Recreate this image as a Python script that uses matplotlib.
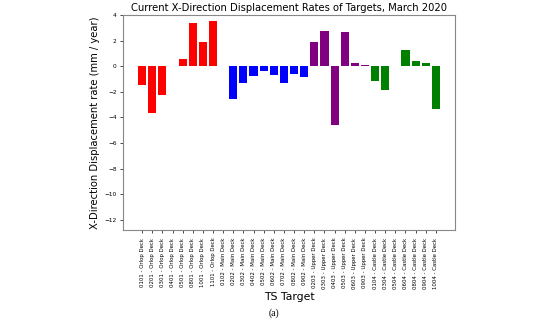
import matplotlib
matplotlib.use("Agg")
import matplotlib.pyplot as plt

targets = ["0101 - Orlop Deck", "0201 - Orlop Deck", "0301 - Orlop Deck", "0401 - Orlop Deck",
           "0501 - Orlop Deck", "0801 - Orlop Deck", "1001 - Orlop Deck", "1101 - Orlop Deck",
           "0102 - Main Deck", "0202 - Main Deck", "0302 - Main Deck", "0402 - Main Deck",
           "0502 - Main Deck", "0602 - Main Deck", "0702 - Main Deck", "0802 - Main Deck",
           "0902 - Main Deck",
           "0203 - Upper Deck", "0303 - Upper Deck", "0403 - Upper Deck", "0503 - Upper Deck",
           "0603 - Upper Deck", "0903 - Upper Deck",
           "0104 - Castle Deck", "0304 - Castle Deck", "0504 - Castle Deck", "0604 - Castle Deck",
           "0804 - Castle Deck", "0904 - Castle Deck", "1004 - Castle Deck"]

rates = [-1.45, -3.64, -2.24, 0.0, 0.54, 3.35, 1.93, 3.56,
         0.0, -2.56, -1.30, -0.75, -0.41, -0.67, -1.32, -0.62, -0.83,
         1.87, 2.72, -4.63, 2.69, 0.25, 0.08,
         -1.17, -1.88, 0.03, 1.27, 0.41, 0.27, -3.32]

deck_colors = ["red"] * 8 + ["blue"] * 9 + ["purple"] * 6 + ["green"] * 7

fig = plt.figure(figsize=(5.5, 3.27), dpi=100)
ax = fig.add_axes([0.2236, 0.2966, 0.6037, 0.6575])
x = list(range(len(targets)))
ax.bar(x, rates, color=deck_colors, width=0.8)
ax.set_xticks(x)
ax.set_xticklabels(targets, rotation=90, fontsize=3.9)
ax.set_ylim(-12.8, 4)
ax.set_yticks([-12, -10, -8, -6, -4, -2, 0, 2, 4])
ax.tick_params(axis='y', labelsize=4.2, length=2.5, width=0.5, pad=2)
ax.tick_params(axis='x', length=2.5, width=0.5, pad=3)
for s in ax.spines.values():
    s.set_linewidth(0.8)
    s.set_color("#888888")
ax.set_title("Current X-Direction Displacement Rates of Targets, March 2020", fontsize=7.2, pad=3)
ax.set_ylabel("X-Direction Displacement rate (mm / year)", fontsize=7.2, labelpad=3)
ax.set_xlabel("TS Target", fontsize=7.8, labelpad=2)
fig.text(0.498, 0.027, "(a)", fontsize=7, family="Liberation Serif", ha="center", va="bottom")
fig.savefig("out.png", dpi=100)
